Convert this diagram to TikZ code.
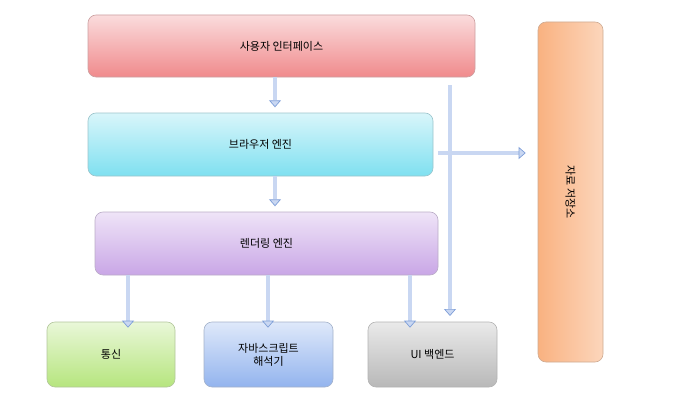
\documentclass[tikz,border=0pt]{standalone}
\usepackage{fontspec}
\setmainfont{Noto Sans CJK KR}
\usetikzlibrary{arrows.meta}
\definecolor{arrB}{HTML}{7F9FD8}
\definecolor{arrF}{HTML}{C9D7F2}
\begin{document}
\begin{tikzpicture}[x=1pt,y=-1pt,
 box/.style={rounded corners=8pt,draw=#1!70!black!60,line width=0.6pt,top color=#1!30!white,bottom color=#1,font=\fontsize{11}{13}\selectfont,align=center},
 blk/.style={draw=arrB,line width=0.7pt,double=arrF,double distance=3.5pt,-{Triangle[length=7pt,width=12pt,fill=arrF]}}]
\useasboundingbox (0,0) rectangle (677,404);
\definecolor{cr}{HTML}{F08A8C}\definecolor{cc}{HTML}{7FE0F0}\definecolor{cp}{HTML}{C9A6E6}
\definecolor{cg}{HTML}{B6E57E}\definecolor{cb}{HTML}{93B4EE}\definecolor{ck}{HTML}{B8B8B8}\definecolor{co}{HTML}{F8A46A}
\node[box=cr,minimum width=387pt,minimum height=62pt] (ui) at (281.5,46) {사용자 인터페이스};
\node[box=cc,minimum width=345pt,minimum height=63pt] (be) at (260.5,144.5) {브라우저 엔진};
\node[box=cp,minimum width=343pt,minimum height=63pt] (re) at (266.5,243.5) {렌더링 엔진};
\node[box=cg,minimum width=128pt,minimum height=65pt] (net) at (111,354.5) {통신};
\node[box=cb,minimum width=129pt,minimum height=65pt] (js) at (268.5,354.5) {자바스크립트\\해석기};
\node[box=ck,minimum width=129pt,minimum height=65pt] (uib) at (432.5,354.5) {UI 백엔드};
\node[box=co,left color=co!85,right color=co!45!white,minimum width=65pt,minimum height=340pt] (ds) at (570.5,192) {};
\node[rotate=-90,font=\fontsize{11}{13}\selectfont] (dsl) at (ds.center) {자료 저장소};
\coordinate (t) at (450,85);
\draw[blk] (t) -- (450,316);
\draw[blk] (ui.south -| 275,0) -- ++(0,30);
\draw[blk] (be.south -| 275,0) -- ++(0,30);
\draw[blk] (re.south -| 128,0) -- ([yshift=-6pt]net.north -| 128,0);
\draw[blk] (re.south -| 268,0) -- ([yshift=-6pt]js.north -| 268,0);
\draw[blk] (re.south -| 410,0) -- ([yshift=-6pt]uib.north -| 410,0);
\draw[blk] (438,153) -- ([xshift=-12pt]ds.west |- 0,153);
\end{tikzpicture}
\end{document}
